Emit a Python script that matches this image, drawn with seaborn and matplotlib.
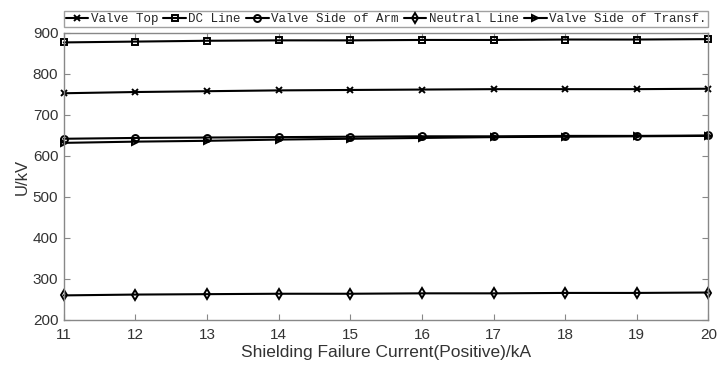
import matplotlib
matplotlib.use("Agg")
import matplotlib.pyplot as plt
import seaborn as sns
import pandas as pd

current = [11, 12, 13, 14, 15, 16, 17, 18, 19, 20]
valve_top = [753, 756, 758, 760, 761, 762, 763, 763, 763, 764]
dc_line = [877, 879, 881, 882, 882, 883, 883, 884, 884, 885]
valve_arm = [642, 644, 645, 646, 647, 648, 648, 649, 649, 650]
neutral = [260, 262, 263, 264, 264, 265, 265, 266, 266, 267]
valve_transf = [632, 635, 637, 640, 642, 644, 646, 647, 648, 649]

names = ["Valve Top", "DC Line", "Valve Side of Arm", "Neutral Line", "Valve Side of Transf."]
series = [valve_top, dc_line, valve_arm, neutral, valve_transf]
marks = ["x", "s", "o", "d", ">"]

sns.set_style("white")
plt.rcParams["font.family"] = ["Liberation Sans", "DejaVu Sans"]

fig = plt.figure(figsize=(7.17, 3.71), dpi=100)
ax = fig.add_axes([0.089, 0.1375, 0.899, 0.7736])

for n, vals, m in zip(names, series, marks):
    df = pd.DataFrame({"I": current, "U": vals})
    sns.lineplot(data=df, x="I", y="U", color="black", marker=m, label=n,
                 linewidth=1.5, markersize=5, markerfacecolor="none",
                 markeredgecolor="black", markeredgewidth=1.4, ax=ax, clip_on=False)

ax.set_xlim(11, 20)
ax.set_ylim(200, 900)
ax.set_xticks(current)
ax.set_yticks(range(200, 901, 100))
ax.tick_params(axis="both", direction="in", length=4, width=0.8, color="#888888", labelsize=11,
               labelcolor="#333333", bottom=True, left=True, top=True, right=True)
ax.tick_params(axis="x", pad=6)
ax.tick_params(axis="y", pad=4)
for s in ax.spines.values():
    s.set_color("#888888")
    s.set_linewidth(1.0)
ax.set_xlabel("Shielding Failure Current(Positive)/kA", fontsize=12.5, color="#333333", labelpad=2)
ax.set_ylabel("U/kV", fontsize=12, color="#333333", labelpad=2)

h, l = ax.get_legend_handles_labels()
leg = ax.legend(h, l, loc="lower left", bbox_to_anchor=(0.0, 1.02, 1.0, 0.06), mode="expand",
                ncol=5, frameon=True, fancybox=False, borderpad=0.15, handlelength=1.8,
                handletextpad=0.2, columnspacing=0.5, borderaxespad=0.0,
                prop={"family": "Liberation Mono", "size": 9})
leg.get_frame().set_edgecolor("#888888")
leg.get_frame().set_linewidth(1.0)

plt.savefig("out.png", dpi=100)
